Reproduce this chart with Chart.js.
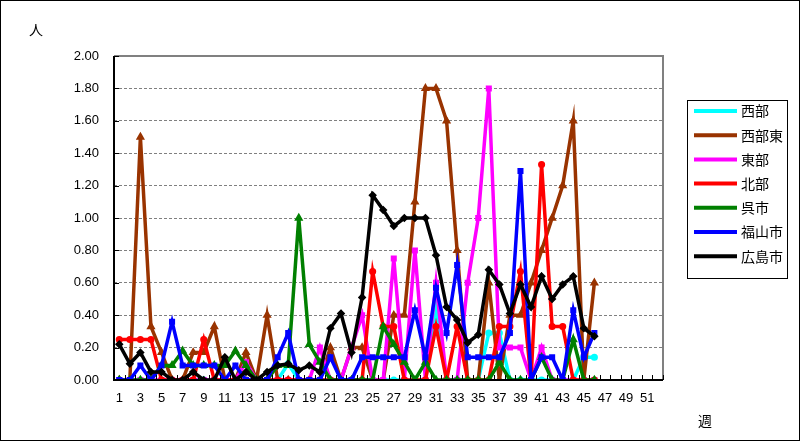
<!DOCTYPE html>
<html>
<head>
<meta charset="utf-8">
<script src="https://cdn.jsdelivr.net/npm/chart.js@4.4.0/dist/chart.umd.min.js"></script>
<style>
  body { margin: 0; background: #fff; }
</style>
</head>
<body>
<canvas id="myChart" width="800" height="441"></canvas>
<script>
// 週 1..52
const semanas = [];
for (let i = 1; i <= 52; i++) semanas.push(String(i));

const nombres = ["西部", "西部東", "東部", "北部", "呉市", "福山市", "広島市"];
const colores = ["#00ffff", "#993300", "#ff00ff", "#ff0000", "#008000", "#0000ff", "#000000"];
const marcas = ["circle", "triangle", "rect", "circle", "triangle", "rect", "rectRot"];

const seibu = [0, 0, 0, 0, 0, 0, 0, 0, 0, 0, 0, 0, 0, 0, 0, 0, 0.1, 0, 0, 0,
  0, 0, 0, 0, 0, 0, 0, 0, 0, 0, 0.45, 0, 0, 0, 0, 0.29, 0.29, 0, 0, 0,
  0, 0, 0, 0, 0.14, 0.14];
const seibuHigashi = [0, 0, 1.5, 0.33, 0.17, 0, 0, 0.17, 0.17, 0.33, 0, 0, 0.17, 0, 0.4, 0, 0, 0, 0, 0,
  0.2, 0, 0.2, 0.2, 0, 0, 0.4, 0.4, 1.1, 1.8, 1.8, 1.6, 0.8, 0, 0, 0.6, 0, 0.4, 0.4, 0.6,
  0.8, 1.0, 1.2, 1.6, 0, 0.6];
const toubu = [0, 0, 0, 0, 0, 0, 0, 0, 0, 0, 0, 0, 0.11, 0, 0, 0, 0, 0, 0, 0.2,
  0, 0, 0.2, 0.4, 0, 0, 0.75, 0, 0.8, 0, 0.6, 0, 0, 0.6, 1.0, 1.8, 0.2, 0.2, 0.2, 0,
  0.2, 0, 0, 0, 0, 0];
const hokubu = [0.25, 0.25, 0.25, 0.25, 0, 0, 0, 0, 0.25, 0, 0, 0, 0, 0, 0, 0, 0, 0, 0, 0,
  0, 0, 0, 0, 0.67, 0.33, 0.33, 0, 0, 0, 0.33, 0, 0.33, 0, 0, 0, 0.33, 0.33, 0.67, 0,
  1.33, 0.33, 0.33, 0, 0, 0];
const kure = [0, 0, 0, 0, 0.09, 0.09, 0.18, 0.09, 0.09, 0.09, 0.09, 0.18, 0.09, 0, 0, 0.09, 0.09, 1.0, 0.22, 0.11,
  0, 0, 0, 0, 0, 0.33, 0.22, 0.11, 0, 0.11, 0, 0, 0, 0, 0, 0, 0.11, 0, 0, 0,
  0.14, 0, 0, 0.25, 0, 0];
const fukuyama = [0, 0, 0.09, 0, 0.09, 0.36, 0.09, 0.09, 0.09, 0.09, 0, 0.09, 0, 0, 0, 0.14, 0.29, 0, 0, 0,
  0.14, 0, 0, 0.14, 0.14, 0.14, 0.14, 0.14, 0.43, 0.14, 0.57, 0.29, 0.71, 0.14, 0.14, 0.14, 0.14, 0.29, 1.29, 0,
  0.14, 0.14, 0, 0.43, 0.14, 0.29];
const hiroshima = [0.22, 0.1, 0.17, 0.05, 0.05, 0, 0, 0.05, 0, 0, 0.14, 0, 0.05, 0, 0.05, 0.09, 0.1, 0.06, 0.09, 0.05,
  0.32, 0.41, 0.17, 0.51, 1.14, 1.05, 0.95, 1.0, 1.0, 1.0, 0.77, 0.45, 0.37, 0.23, 0.28, 0.68, 0.59, 0.41, 0.59, 0.45,
  0.64, 0.5, 0.59, 0.64, 0.32, 0.27];

const series = [seibu, seibuHigashi, toubu, hokubu, kure, fukuyama, hiroshima];

const fuenteJp = "14px 'Noto Sans CJK JP', sans-serif";

// marco, ticks hacia dentro, leyenda y textos
const decoracion = {
  id: "decoracion",
  afterDraw(chart) {
    const c = chart.ctx;
    const a = chart.chartArea;
    const ys = chart.scales.y;
    c.save();
    // borde gris del área
    c.strokeStyle = "#808080";
    c.lineWidth = 2;
    c.beginPath();
    c.moveTo(a.left, a.top);
    c.lineTo(a.right, a.top);
    c.lineTo(a.right, a.bottom);
    c.stroke();
    // ejes negros
    c.strokeStyle = "#000";
    c.lineWidth = 2;
    c.beginPath();
    c.moveTo(a.left, a.top);
    c.lineTo(a.left, a.bottom);
    c.lineTo(a.right, a.bottom);
    c.stroke();
    c.lineWidth = 1;
    c.beginPath();
    ys.ticks.forEach((t) => {
      const y = Math.round(ys.getPixelForValue(t.value)) + 0.5;
      c.moveTo(a.left, y);
      c.lineTo(a.left + 5, y);
    });
    const paso = (a.right - a.left) / semanas.length;
    for (let i = 0; i <= semanas.length; i++) {
      const x = Math.round(a.left + i * paso) + 0.5;
      c.moveTo(x, a.bottom);
      c.lineTo(x, a.bottom - 5);
    }
    c.stroke();
    // textos
    c.fillStyle = "#000";
    c.font = fuenteJp;
    c.textAlign = "center";
    c.textBaseline = "middle";
    c.fillText("人", 36, 30);
    c.fillText("週", 705, 421);
    // leyenda
    c.strokeStyle = "#000";
    c.lineWidth = 1;
    c.strokeRect(687.5, 100.5, 100, 178);
    c.textAlign = "left";
    for (let i = 0; i < nombres.length; i++) {
      const y = 111 + i * 24.2;
      c.strokeStyle = colores[i];
      c.lineWidth = 4;
      c.beginPath();
      c.moveTo(694, y);
      c.lineTo(737, y);
      c.stroke();
      c.fillStyle = "#000";
      c.fillText(nombres[i], 741, y);
    }
    // marco exterior
    c.strokeStyle = "#000";
    c.lineWidth = 1;
    c.strokeRect(0.5, 0.5, 799, 440);
    c.restore();
  },
};

const ctx = document.getElementById("myChart");
const myChart = new Chart(ctx, {
  type: "line",
  data: {
    labels: semanas,
    datasets: series.map((d, i) => ({
      label: nombres[i],
      data: d,
      borderColor: colores[i],
      backgroundColor: colores[i],
      borderWidth: 3.5,
      pointStyle: marcas[i],
      pointRadius: 1.8,
      pointHoverRadius: 1.8,
      tension: 0,
      order: nombres.length - 1 - i,
    })),
  },
  options: {
    responsive: false,
    animation: false,
    events: [],
    layout: { padding: { top: 56, right: 137, left: 0, bottom: 0 } },
    plugins: {
      legend: { display: false },
      tooltip: { enabled: false },
    },
    scales: {
      x: {
        offset: true,
        grid: { display: false, drawTicks: false },
        border: { display: false },
        ticks: {
          autoSkip: false,
          maxRotation: 0,
          padding: 11,
          color: "#000",
          font: { family: "'Liberation Sans', Arial, sans-serif", size: 13 },
          callback: function (v, i) {
            return i % 2 === 0 ? semanas[i] : "";
          },
        },
        afterFit: function (s) {
          s.height = 61;
        },
      },
      y: {
        min: 0,
        max: 2,
        grid: {
          color: "#808080",
          lineWidth: 1,
          drawTicks: false,
        },
        border: { display: false, dash: [3, 2] },
        ticks: {
          stepSize: 0.2,
          padding: 15,
          color: "#000",
          font: { family: "'Liberation Sans', Arial, sans-serif", size: 13 },
          callback: (v) => v.toFixed(2),
        },
        afterFit: function (s) {
          s.width = 114;
        },
      },
    },
  },
  plugins: [decoracion],
});
</script>
</body>
</html>
